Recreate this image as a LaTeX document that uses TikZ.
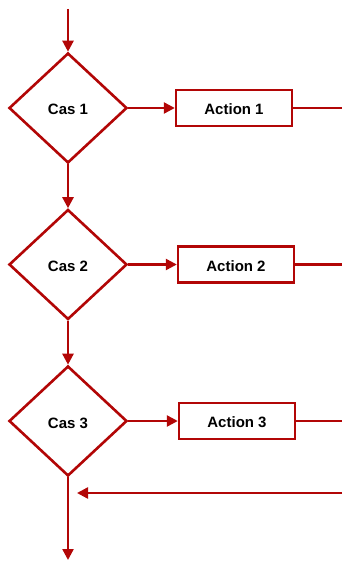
\documentclass[tikz,border=0pt]{standalone}
\usepackage{fontspec}
\setmainfont{Liberation Sans}
\usetikzlibrary{shapes.geometric,arrows.meta}
\definecolor{flowred}{RGB}{178,6,6}
\tikzset{
  flow/.style={draw=flowred,line width=2.6pt},
  casnode/.style={flow,shape=diamond,minimum width=118pt,minimum height=110pt,inner sep=0pt,fill=white,text height=14pt,text depth=0pt,font=\fontsize{15}{18}\selectfont\bfseries},
  actnode/.style={flow,line width=2.4pt,shape=rectangle,minimum width=116pt,minimum height=36pt,inner sep=0pt,fill=white,text height=13pt,text depth=0pt,font=\fontsize{15}{18}\selectfont\bfseries},
  conn/.style={draw=flowred,line width=2.4pt},
  arr/.style={conn,-{Triangle[length=11pt,width=11pt]}},
}
\begin{document}
\begin{tikzpicture}[x=1pt,y=-1pt]
\useasboundingbox (0,0) rectangle (342,561);
\node[casnode] (c1) at (68,108) {Cas 1};
\node[casnode] (c2) at (68,264.5) {Cas 2};
\node[casnode] (c3) at (68,421) {Cas 3};
\node[actnode] (a1) at (234,108) {Action 1};
\node[actnode] (a2) at (236,264.5) {Action 2};
\node[actnode] (a3) at (237,421) {Action 3};
\coordinate (top) at (68,9);
\coordinate (e1) at (342,108);
\coordinate (e2) at (342,264.5);
\coordinate (e3) at (342,421);
\coordinate (r0) at (342,493);
\coordinate (r1) at (77,493);
\coordinate (bot) at (c3.south |- 0,560);
\draw[arr] (top) -- (c1.north);
\draw[arr] (c1.south) -- (c2.north);
\draw[arr] (c2.south) -- (c3.north);
\draw[arr] (c3.south) -- (bot);
\draw[arr] (c1.east) -- (a1.west);
\draw[arr] (c2.east) -- (a2.west);
\draw[arr] (c3.east) -- (a3.west);
\draw[conn] (a1.east) -- (e1);
\draw[conn] (a2.east) -- (e2);
\draw[conn] (a3.east) -- (e3);
\draw[arr] (r0) -- (r1);
\end{tikzpicture}
\end{document}
